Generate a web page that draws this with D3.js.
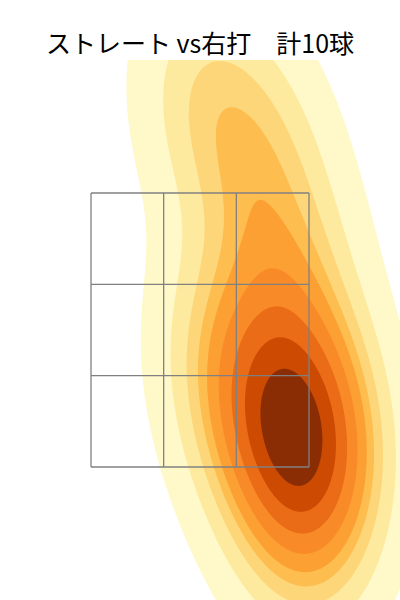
<!DOCTYPE html>
<html>
<head>
<meta charset="utf-8">
<script src="https://cdn.jsdelivr.net/npm/d3@7/dist/d3.min.js"></script>
<style>
  body { margin: 0; background: #fff; }
</style>
</head>
<body>
<div id="chart"></div>
<script>
// Pitch locations, catcher's view (cm): horizontal plate position and height
var pitchX = [16.8, 23.8, 20.8, 21.8, 10.9, 19.8, 17.8, 11.9, 1.0, 5.0];
var pitchZ = [55.2, 50.3, 59.2, 44.4, 52.3, 32.6, 83.8, 105.5, 118.3, 69.0];

// kernel bandwidth (cm) and its x/z correlation
var bandwidth = [9.6, 16.5];
var bwCorr = -0.1;

// strike zone, split 3x3
var zoneX = [-21.6, -7.2, 7.2, 21.6];
var zoneZ = [45, 63, 81, 99];

// iso-proportion levels (10 levels, lowest at 0.05)
var levelProps = d3.range(10).map(function(i) { return 0.05 + i * (0.95 / 9); });
var bandColors = ['#fff8c9', '#feea9f', '#fed67a', '#fdbd4f', '#fca034',
                  '#f98a28', '#ea6c16', '#cc4a02', '#8b2d04'];

var title = 'ストレート vs右打\u3000計10球';

var W = 400, H = 600;
var PLOT = { left: 0, top: 60, right: 400, bottom: 600 };

var svg = d3.select('#chart').append('svg')
  .attr('width', W)
  .attr('height', H);

var x = d3.scaleLinear().domain([zoneX[0], zoneX[3]]).range([91, 309]);
var y = d3.scaleLinear().domain([zoneZ[0], zoneZ[3]]).range([467, 193]);

// gaussian KDE with a fixed 2D kernel
function buildKde(xs, zs) {
  var n = xs.length;
  var a = bandwidth[0] * bandwidth[0];
  var d = bandwidth[1] * bandwidth[1];
  var b = bwCorr * bandwidth[0] * bandwidth[1];
  var det = a * d - b * b;
  var ia = d / det, id = a / det, ib = -b / det;
  return function(px, pz) {
    var s = 0;
    for (var k = 0; k < n; k++) {
      var dx = px - xs[k], dz = pz - zs[k];
      s += Math.exp(-0.5 * (ia * dx * dx + 2 * ib * dx * dz + id * dz * dz));
    }
    return s;
  };
}

var kde = buildKde(pitchX, pitchZ);

var STEP = 2;
var GX0 = -200, GY0 = -200, GX1 = 600, GY1 = 820;
var nx = Math.round((GX1 - GX0) / STEP), ny = Math.round((GY1 - GY0) / STEP);
var values = new Float64Array(nx * ny);
for (var j = 0; j < ny; j++) {
  var pz = y.invert(GY0 + (j + 0.5) * STEP);
  for (var i = 0; i < nx; i++) {
    values[j * nx + i] = kde(x.invert(GX0 + (i + 0.5) * STEP), pz);
  }
}

function quantileToLevel(vals, props) {
  var sorted = Array.from(vals).sort(function(p, q) { return q - p; });
  var total = d3.sum(sorted);
  var cum = new Float64Array(sorted.length);
  var acc = 0;
  for (var i = 0; i < sorted.length; i++) { acc += sorted[i]; cum[i] = acc / total; }
  return props.map(function(p) {
    var idx = d3.bisectLeft(cum, 1 - p);
    return sorted[Math.min(idx, sorted.length - 1)];
  });
}

var levels = quantileToLevel(values, levelProps);

var contours = d3.contours()
  .size([nx, ny])
  .thresholds(levels.slice(0, 9))(values);

var path = d3.geoPath(d3.geoIdentity().scale(STEP).translate([GX0, GY0]));

svg.append('defs').append('clipPath')
  .attr('id', 'plot-clip')
  .append('rect')
  .attr('x', PLOT.left)
  .attr('y', PLOT.top)
  .attr('width', PLOT.right - PLOT.left)
  .attr('height', PLOT.bottom - PLOT.top);

svg.append('g')
  .attr('clip-path', 'url(#plot-clip)')
  .selectAll('path')
  .data(contours)
  .join('path')
  .attr('d', path)
  .attr('fill', function(d, i) { return bandColors[i]; })
  .attr('stroke', 'none');

// strike zone grid
var grid = svg.append('g')
  .attr('stroke', '#808080')
  .attr('stroke-width', 1.3)
  .attr('fill', 'none');

zoneX.forEach(function(v) {
  grid.append('line')
    .attr('x1', x(v)).attr('x2', x(v))
    .attr('y1', y(zoneZ[0])).attr('y2', y(zoneZ[3]));
});
zoneZ.forEach(function(v) {
  grid.append('line')
    .attr('x1', x(zoneX[0])).attr('x2', x(zoneX[3]))
    .attr('y1', y(v)).attr('y2', y(v));
});

svg.append('text')
  .attr('x', W / 2)
  .attr('y', 53)
  .attr('text-anchor', 'middle')
  .attr('font-family', '"Noto Sans CJK JP", "Noto Sans", sans-serif')
  .attr('font-size', '25px')
  .attr('fill', '#000')
  .text(title);
</script>
</body>
</html>
